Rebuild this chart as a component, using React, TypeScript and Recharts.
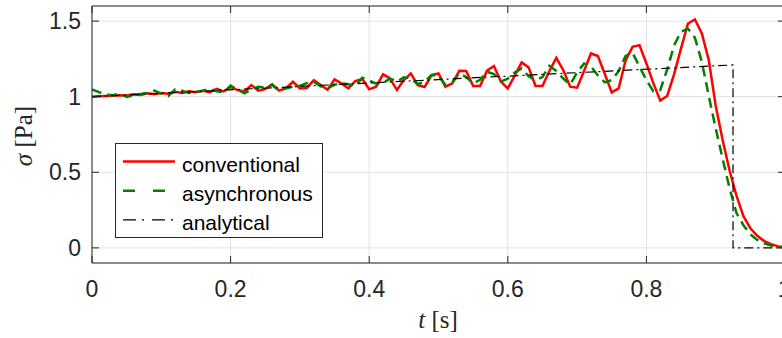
import { LineChart, Line, XAxis, YAxis, CartesianGrid, Legend } from "recharts";

// sample times (s)
const times = [
  0, 0.01, 0.02, 0.03, 0.04, 0.05, 0.06, 0.07, 0.08, 0.09,
  0.1, 0.11, 0.12, 0.13, 0.14, 0.15, 0.16, 0.17, 0.18, 0.19,
  0.2, 0.21, 0.22, 0.23, 0.24, 0.25, 0.26, 0.27, 0.28, 0.29,
  0.3, 0.31, 0.32, 0.33, 0.34, 0.35, 0.36, 0.37, 0.38, 0.39,
  0.4, 0.41, 0.42, 0.43, 0.44, 0.45, 0.46, 0.47, 0.48, 0.49,
  0.5, 0.51, 0.52, 0.53, 0.54, 0.55, 0.56, 0.57, 0.58, 0.59,
  0.6, 0.61, 0.62, 0.63, 0.64, 0.65, 0.66, 0.67, 0.68, 0.69,
  0.7, 0.71, 0.72, 0.73, 0.74, 0.75, 0.76, 0.77, 0.78, 0.79,
  0.8, 0.81, 0.82, 0.83, 0.84, 0.85, 0.86, 0.87, 0.88, 0.89,
  0.9, 0.91, 0.92, 0.93, 0.94, 0.95, 0.96, 0.97, 0.98, 0.99, 1,
];

const conventional = [
  1.0, 1.003, 1.004, 1.006, 1.01, 1.008, 1.016, 1.012, 1.022, 1.016,
  1.024, 1.02, 1.032, 1.024, 1.036, 1.03, 1.04, 1.03, 1.052, 1.035,
  1.064, 1.044, 1.035, 1.077, 1.04, 1.05, 1.082, 1.04, 1.056, 1.099,
  1.055, 1.058, 1.11, 1.077, 1.046, 1.114, 1.088, 1.055, 1.104, 1.117,
  1.049, 1.066, 1.148, 1.121, 1.044, 1.11, 1.154, 1.077, 1.064, 1.143,
  1.154, 1.066, 1.088, 1.172, 1.17, 1.07, 1.07, 1.172, 1.203, 1.1,
  1.055, 1.14, 1.227, 1.194, 1.071, 1.071, 1.17, 1.257, 1.176, 1.066,
  1.06, 1.17, 1.286, 1.269, 1.15, 1.029, 1.055, 1.24, 1.33, 1.341,
  1.22, 1.09, 0.974, 1.005, 1.15, 1.32, 1.484, 1.511, 1.418, 1.242,
  0.94, 0.714, 0.512, 0.345, 0.21, 0.13, 0.08, 0.045, 0.025, 0.01, 0.004,
];

const asynchronous = [
  1.049, 1.03, 1.014, 1.01, 1.022, 0.998, 1.008, 1.018, 1.024, 1.04,
  1.02, 1.004, 1.049, 1.04, 1.024, 1.032, 1.04, 1.051, 1.036, 1.03,
  1.073, 1.046, 1.022, 1.05, 1.066, 1.06, 1.078, 1.04, 1.055, 1.066,
  1.072, 1.09, 1.099, 1.068, 1.055, 1.08, 1.088, 1.082, 1.07, 1.126,
  1.108, 1.086, 1.092, 1.12, 1.1, 1.128, 1.12, 1.083, 1.1, 1.143,
  1.14, 1.077, 1.095, 1.154, 1.13, 1.088, 1.112, 1.165, 1.15, 1.1,
  1.12, 1.16, 1.187, 1.135, 1.11, 1.13, 1.205, 1.17, 1.12, 1.08,
  1.16, 1.22, 1.2, 1.14, 1.095, 1.11, 1.17, 1.27, 1.29, 1.2,
  1.11, 1.035, 1.044, 1.18, 1.34, 1.43, 1.45, 1.39, 1.23, 1.005,
  0.79, 0.59, 0.395, 0.23, 0.15, 0.09, 0.053, 0.03, 0.015, 0.007, 0.003,
];

const analyticalTimes = [0, 0.925, 0.925, 1];
const analytical = [1.0, 1.21, 0, 0];

const seriesNames = ["conventional", "asynchronous", "analytical"];
const xTicks = [0, 0.2, 0.4, 0.6, 0.8, 1];
const yTicks = [0, 0.5, 1, 1.5];

const convData = times.map((t, i) => ({ t, v: conventional[i] }));
const asyncData = times.map((t, i) => ({ t, v: asynchronous[i] }));
const anaData = analyticalTimes.map((t, i) => ({ t, v: analytical[i] }));

const AXIS = "#262626";
const SANS = "'Liberation Sans', Arial, Helvetica, sans-serif";
const SERIF = "'Liberation Serif', 'Times New Roman', serif";

const legendStyles: { [k: string]: { color: string; width: number; dash?: string } } = {
  conventional: { color: "#ff0000", width: 2.5 },
  asynchronous: { color: "#008000", width: 2.5, dash: "12 18" },
  analytical: { color: "#000000", width: 1.2, dash: "13 6 2 8" },
};

// fixed order, same as the plot order
const LegendBox = () => (
  <svg width={208} height={95} style={{ display: "block" }}>
    <rect x={0.5} y={0.5} width={207} height={94} fill="#fff" stroke={AXIS} strokeWidth={1} />
    {seriesNames.map((name, i) => {
      const s = legendStyles[name];
      const y = 18.5 + i * 29.2;
      return (
        <g key={name}>
          <line x1={8} x2={60} y1={y} y2={y} stroke={s.color} strokeWidth={s.width} strokeDasharray={s.dash} />
          <text x={67} y={y + 10} fontSize={21} fontFamily={SANS} fill="#000">
            {name}
          </text>
        </g>
      );
    })}
  </svg>
);

const YLabel = () => (
  <text x={32} y={136} transform="rotate(-90 32 136)" textAnchor="middle" fontSize={25} fontFamily={SERIF} fill={AXIS}>
    <tspan fontStyle="italic">σ</tspan> [Pa]
  </text>
);

const XLabel = () => (
  <text x={438} y={328} textAnchor="middle" fontSize={25} fontFamily={SERIF} fill={AXIS}>
    <tspan fontStyle="italic">t</tspan> [s]
  </text>
);

export default function App() {
  const tickStyle = { fill: AXIS, fontSize: 23, fontFamily: SANS };
  return (
    <div style={{ position: "fixed", left: 0, top: 0, width: 782, height: 338, overflow: "hidden", background: "#fff" }}>
      <LineChart width={790} height={338} margin={{ top: 5, right: 4, bottom: 0, left: 0 }}>
        <CartesianGrid stroke="#e2e2e2" strokeWidth={1} />
        <XAxis
          type="number"
          dataKey="t"
          domain={[0, 1]}
          ticks={xTicks}
          allowDataOverflow
          height={75}
          stroke={AXIS}
          tickSize={-7}
          tickMargin={25}
          tick={tickStyle}
          label={<XLabel />}
        />
        <XAxis
          xAxisId="top"
          orientation="top"
          type="number"
          dataKey="t"
          domain={[0, 1]}
          ticks={xTicks}
          allowDataOverflow
          height={1}
          stroke={AXIS}
          tickSize={-7}
          tickFormatter={() => ""}
        />
        <YAxis
          type="number"
          domain={[-0.1, 1.6]}
          ticks={yTicks}
          allowDataOverflow
          width={92}
          stroke={AXIS}
          tickSize={-7}
          tickMargin={18}
          tick={tickStyle}
          label={<YLabel />}
        />
        <YAxis
          yAxisId="right"
          orientation="right"
          type="number"
          domain={[-0.1, 1.6]}
          ticks={yTicks}
          allowDataOverflow
          width={1}
          stroke={AXIS}
          tickSize={-7}
          tickFormatter={() => ""}
        />
        <Line data={convData} dataKey="v" name="conventional" stroke="#ff0000" strokeWidth={2.5} dot={false} isAnimationActive={false} />
        <Line data={asyncData} dataKey="v" name="asynchronous" stroke="#008000" strokeWidth={2.5} strokeDasharray="10 6" dot={false} isAnimationActive={false} />
        <Line data={anaData} dataKey="v" name="analytical" stroke="#000000" strokeWidth={1.2} strokeDasharray="9 4 2 4" dot={false} isAnimationActive={false} />
        <Legend
          layout="vertical"
          align="center"
          verticalAlign="middle"
          content={<LegendBox />}
          wrapperStyle={{ position: "absolute", left: 115, top: 143, width: 208, height: 95 }}
        />
      </LineChart>
    </div>
  );
}
